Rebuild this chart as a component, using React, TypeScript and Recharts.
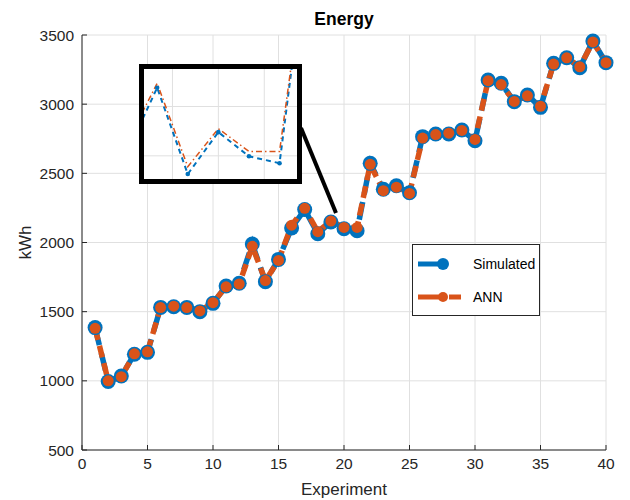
import React from 'react';
import { LineChart, Line, XAxis, YAxis, CartesianGrid, ReferenceLine } from 'recharts';

const EXPERIMENTS = [
  1, 2, 3, 4, 5, 6, 7, 8, 9, 10, 11, 12, 13, 14, 15, 16, 17, 18, 19, 20,
  21, 22, 23, 24, 25, 26, 27, 28, 29, 30, 31, 32, 33, 34, 35, 36, 37, 38, 39, 40,
];
const SIMULATED = [
  1385, 995, 1035, 1192, 1206, 1531, 1536, 1531, 1500, 1560, 1686, 1705, 1989, 1717, 1878, 2105, 2238, 2063, 2148, 2099,
  2085, 2572, 2385, 2410, 2360, 2765, 2784, 2784, 2813, 2736, 3175, 3151, 3018, 3066, 2977, 3295, 3336, 3264, 3457, 3300,
];
const ANN = [
  1380, 1000, 1030, 1195, 1210, 1530, 1540, 1530, 1505, 1565, 1680, 1700, 1972, 1725, 1870, 2125, 2247, 2078, 2155, 2109,
  2109, 2565, 2375, 2400, 2355, 2755, 2780, 2790, 2810, 2745, 3170, 3142, 3020, 3060, 2985, 3290, 3335, 3270, 3450, 3300,
];
const X_TICKS = [0, 5, 10, 15, 20, 25, 30, 35, 40];
const Y_TICKS = [500, 1000, 1500, 2000, 2500, 3000, 3500];
const ZOOM_X = [16.57, 21.57];
const ZOOM_Y = [2053, 2276];
const ZOOM_X_TICKS = [17.5, 19, 20.5];
const ZOOM_Y_TICKS = [2100, 2200];
// connector from the zoom box to the zoomed region (data coords)
const CONNECTOR = [{ x: 16.72, y: 2828 }, { x: 19.39, y: 2213 }];

const data = EXPERIMENTS.map((x, i) => ({ x, sim: SIMULATED[i], ann: ANN[i] }));

const BLUE = '#0072BD';
const ORANGE = '#D95319';
const AXIS = '#262626';
const FONT = '"Liberation Sans", Arial, Helvetica, sans-serif';

const tickStyle = { fill: AXIS, fontSize: 15.5, fontFamily: FONT };

const dotOf = (color: string, r: number) => (p: any) =>
  p.cx == null ? null : <circle key={`d${p.index}`} cx={p.cx} cy={p.cy} r={r} fill={color} stroke="none" />;

function LegendBox() {
  const row = (label: string, color: string, r: number, dashed: boolean) => (
    <div style={{ display: 'flex', alignItems: 'center', height: 33 }}>
      <svg width={52} height={16} style={{ marginLeft: 4 }}>
        <line x1={1} y1={8} x2={22} y2={8} stroke={color} strokeWidth={5} />
        <circle cx={26} cy={8} r={r} fill={color} />
        {dashed && <line x1={32} y1={8} x2={44} y2={8} stroke={color} strokeWidth={5} />}
      </svg>
      <span style={{ marginLeft: 4, fontSize: 14, color: '#000' }}>{label}</span>
    </div>
  );
  return (
    <div
      style={{
        position: 'absolute', left: 412, top: 244, width: 126, height: 68,
        border: `1px solid ${AXIS}`, background: '#fff', fontFamily: FONT,
        boxSizing: 'content-box', paddingTop: 2,
      }}
    >
      {row('Simulated', BLUE, 6, false)}
      {row('ANN', ORANGE, 5, true)}
    </div>
  );
}

export default function App() {
  return (
    <div style={{ position: 'absolute', left: 0, top: 0, width: 630, height: 500, background: '#fff', fontFamily: FONT }}>
      <LineChart width={630} height={500} data={data} margin={{ top: 35, right: 24, bottom: 0, left: 0 }}>
        <CartesianGrid stroke="#e0e0e0" />
        <XAxis
          dataKey="x" type="number" domain={[0, 40]} ticks={X_TICKS} height={50}
          tick={tickStyle} tickSize={-5} tickMargin={13}
          axisLine={{ stroke: AXIS }} tickLine={{ stroke: AXIS }}
          label={{ value: 'Experiment', position: 'insideBottom', offset: 5, fill: AXIS, fontSize: 17, fontFamily: FONT }}
        />
        <XAxis
          xAxisId="top" orientation="top" dataKey="x" type="number" domain={[0, 40]} ticks={X_TICKS}
          height={0} mirror tickSize={5} tickFormatter={() => ''}
          axisLine={{ stroke: AXIS }} tickLine={{ stroke: AXIS }}
        />
        <YAxis
          type="number" domain={[500, 3500]} ticks={Y_TICKS} width={82}
          tick={tickStyle} tickSize={-5} tickMargin={13}
          axisLine={{ stroke: AXIS }} tickLine={{ stroke: AXIS }}
          label={{ value: 'kWh', angle: -90, position: 'insideLeft', offset: 25, fill: AXIS, fontSize: 17, fontFamily: FONT, style: { textAnchor: 'middle' } }}
        />
        <YAxis
          yAxisId="r" orientation="right" type="number" domain={[500, 3500]} ticks={Y_TICKS}
          width={0} mirror tickSize={5} tickFormatter={() => ''}
          axisLine={{ stroke: AXIS }} tickLine={{ stroke: AXIS }}
        />
        <ReferenceLine segment={CONNECTOR} stroke="#000" strokeWidth={4} ifOverflow="visible" />
        <Line
          dataKey="sim" name="Simulated" stroke={BLUE} strokeWidth={5.5} strokeDasharray="18 8"
          dot={dotOf(BLUE, 7.5)} activeDot={false} isAnimationActive={false}
        />
        <Line
          dataKey="ann" name="ANN" stroke={ORANGE} strokeWidth={5.5} strokeDasharray="12 6"
          dot={dotOf(ORANGE, 5.5)} activeDot={false} isAnimationActive={false}
        />
      </LineChart>

      <svg style={{ position: 'absolute', left: 0, top: 0 }} width={630} height={40}>
        <text x={344} y={25} textAnchor="middle" fontSize={17.5} fontWeight="bold" fontFamily={FONT} fill="#000">
          Energy
        </text>
      </svg>

      <div
        style={{
          position: 'absolute', left: 139, top: 64, width: 153, height: 110,
          border: '5px solid #000', background: '#fff',
        }}
      >
        <LineChart width={153} height={110} data={data} margin={{ top: 0, right: 0, bottom: 0, left: 0 }}>
          <CartesianGrid stroke="#e0e0e0" verticalValues={ZOOM_X_TICKS} horizontalValues={ZOOM_Y_TICKS} />
          <XAxis dataKey="x" type="number" domain={ZOOM_X} ticks={ZOOM_X_TICKS} allowDataOverflow hide />
          <YAxis type="number" domain={ZOOM_Y} ticks={ZOOM_Y_TICKS} allowDataOverflow hide />
          <Line
            dataKey="sim" stroke={BLUE} strokeWidth={2} strokeDasharray="5 4"
            dot={dotOf(BLUE, 2.3)} activeDot={false} isAnimationActive={false}
          />
          <Line
            dataKey="ann" stroke={ORANGE} strokeWidth={1.5} strokeDasharray="6 3 1.5 3"
            dot={false} activeDot={false} isAnimationActive={false}
          />
        </LineChart>
      </div>

      <LegendBox />
    </div>
  );
}
